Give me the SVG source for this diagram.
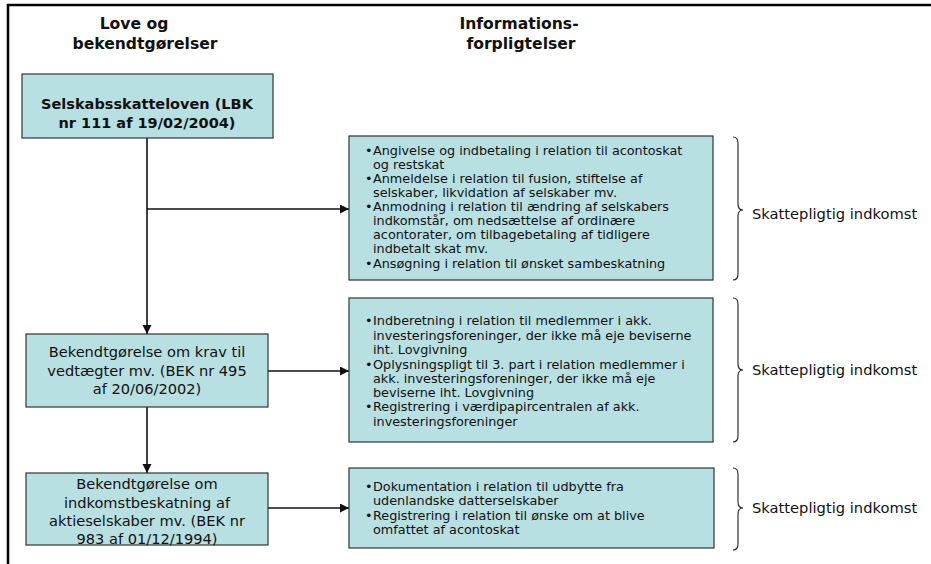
<svg xmlns="http://www.w3.org/2000/svg" width="931" height="564" viewBox="0 0 931 564">
  <defs>
    <marker id="arrow" markerUnits="userSpaceOnUse" markerWidth="10" markerHeight="10" refX="9" refY="4.5" orient="auto">
      <path d="M0,0 L9,4.5 L0,9 Z" fill="#111"/>
    </marker>
    <style>
      .frame { stroke: #000; stroke-width: 2.5; fill: none; }
      .box { fill: #b8dfe2; stroke: #333; stroke-width: 1.2; }
      .head { font-family: "DejaVu Sans", Verdana, sans-serif; font-weight: bold; font-size: 15.6px; fill: #111; text-anchor: middle; }
      .law-b { font-family: "DejaVu Sans", Verdana, sans-serif; font-weight: bold; font-size: 14.5px; fill: #111; text-anchor: middle; }
      .law { font-family: "DejaVu Sans", Verdana, sans-serif; font-size: 14.6px; fill: #111; text-anchor: middle; }
      .info { font-family: "DejaVu Sans", Verdana, sans-serif; font-size: 12.8px; fill: #111; }
      .tag { font-family: "DejaVu Sans", Verdana, sans-serif; font-size: 14.7px; fill: #111; }
      .conn { stroke: #111; stroke-width: 1.6; fill: none; }
      .brace { stroke: #222; stroke-width: 1.1; fill: none; }
    </style>
  </defs>

  <!-- page frame -->
  <path class="frame" d="M8,564 L8,5 L931,5"/>

  <!-- column headers -->
  <g id="header-laws">
    <text class="head" x="134" y="29">Love og</text>
    <text class="head" x="145" y="49">bekendtgørelser</text>
  </g>
  <g id="header-info">
    <text class="head" x="519" y="29">Informations-</text>
    <text class="head" x="521" y="49">forpligtelser</text>
  </g>

  <!-- connectors -->
  <g id="connectors">
    <path class="conn" d="M147,138 L147,334" marker-end="url(#arrow)"/>
    <path class="conn" d="M147,209 L349,209" marker-end="url(#arrow)"/>
    <path class="conn" d="M268,371 L349,371" marker-end="url(#arrow)"/>
    <path class="conn" d="M147,407 L147,473" marker-end="url(#arrow)"/>
    <path class="conn" d="M268,508 L349,508" marker-end="url(#arrow)"/>
  </g>

  <!-- law nodes -->
  <g id="law-selskabsskatteloven">
    <rect class="box" x="22" y="74" width="251" height="64"/>
    <text class="law-b" x="147" y="109">Selskabsskatteloven (LBK</text>
    <text class="law-b" x="147" y="128">nr 111 af 19/02/2004)</text>
  </g>
  <g id="law-bek-495">
    <rect class="box" x="26" y="334" width="242" height="73"/>
    <text class="law" x="147" y="357">Bekendtgørelse om krav til</text>
    <text class="law" x="147" y="375.5">vedtægter mv. (BEK nr 495</text>
    <text class="law" x="147" y="394">af 20/06/2002)</text>
  </g>
  <g id="law-bek-983">
    <rect class="box" x="26" y="473" width="242" height="72"/>
    <text class="law" x="147" y="489">Bekendtgørelse om</text>
    <text class="law" x="147" y="507.5">indkomstbeskatning af</text>
    <text class="law" x="147" y="526">aktieselskaber mv. (BEK nr</text>
    <text class="law" x="147" y="544">983 af 01/12/1994)</text>
  </g>

  <!-- information duty nodes -->
  <g id="info-selskabsskat">
    <rect class="box" x="349" y="136" width="364" height="144"/>
    <text class="info" x="365" y="155">•</text>
    <text class="info" x="373" y="155">Angivelse og indbetaling i relation til acontoskat</text>
    <text class="info" x="373" y="169">og restskat</text>
    <text class="info" x="365" y="183">•</text>
    <text class="info" x="373" y="183">Anmeldelse i relation til fusion, stiftelse af</text>
    <text class="info" x="373" y="197">selskaber, likvidation af selskaber mv.</text>
    <text class="info" x="365" y="211">•</text>
    <text class="info" x="373" y="211">Anmodning i relation til ændring af selskabers</text>
    <text class="info" x="373" y="225">indkomstår, om nedsættelse af ordinære</text>
    <text class="info" x="373" y="239">acontorater, om tilbagebetaling af tidligere</text>
    <text class="info" x="373" y="253">indbetalt skat mv.</text>
    <text class="info" x="365" y="267.5">•</text>
    <text class="info" x="373" y="267.5">Ansøgning i relation til ønsket sambeskatning</text>
  </g>
  <g id="info-bek-495">
    <rect class="box" x="349" y="298" width="364" height="144"/>
    <text class="info" x="365" y="325">•</text>
    <text class="info" x="373" y="325">Indberetning i relation til medlemmer i akk.</text>
    <text class="info" x="373" y="339.5">investeringsforeninger, der ikke må eje beviserne</text>
    <text class="info" x="373" y="354">iht. Lovgivning</text>
    <text class="info" x="365" y="368.5">•</text>
    <text class="info" x="373" y="368.5">Oplysningspligt til 3. part i relation medlemmer i</text>
    <text class="info" x="373" y="383">akk. investeringsforeninger, der ikke må eje</text>
    <text class="info" x="373" y="397">beviserne iht. Lovgivning</text>
    <text class="info" x="365" y="411">•</text>
    <text class="info" x="373" y="411">Registrering i værdipapircentralen af akk.</text>
    <text class="info" x="373" y="425.5">investeringsforeninger</text>
  </g>
  <g id="info-bek-983">
    <rect class="box" x="349" y="468" width="365" height="80"/>
    <text class="info" x="365" y="490.5">•</text>
    <text class="info" x="373" y="490.5">Dokumentation i relation til udbytte fra</text>
    <text class="info" x="373" y="505">udenlandske datterselskaber</text>
    <text class="info" x="365" y="519.5">•</text>
    <text class="info" x="373" y="519.5">Registrering i relation til ønske om at blive</text>
    <text class="info" x="373" y="534">omfattet af acontoskat</text>
  </g>

  <!-- braces with labels -->
  <g id="tag-1">
    <path class="brace" d="M733,137 Q738,137 738,143 L738,204 Q738,210 743,210 Q738,210 738,216 L738,274 Q738,280 733,280"/>
    <text class="tag" x="752" y="219">Skattepligtig indkomst</text>
  </g>
  <g id="tag-2">
    <path class="brace" d="M733,298 Q738,298 738,304 L738,364 Q738,370 743,370 Q738,370 738,376 L738,436 Q738,442 733,442"/>
    <text class="tag" x="752" y="375">Skattepligtig indkomst</text>
  </g>
  <g id="tag-3">
    <path class="brace" d="M733,468 Q738,468 738,474 L738,502 Q738,508 743,508 Q738,508 738,514 L738,544 Q738,550 733,550"/>
    <text class="tag" x="752" y="513">Skattepligtig indkomst</text>
  </g>
</svg>
